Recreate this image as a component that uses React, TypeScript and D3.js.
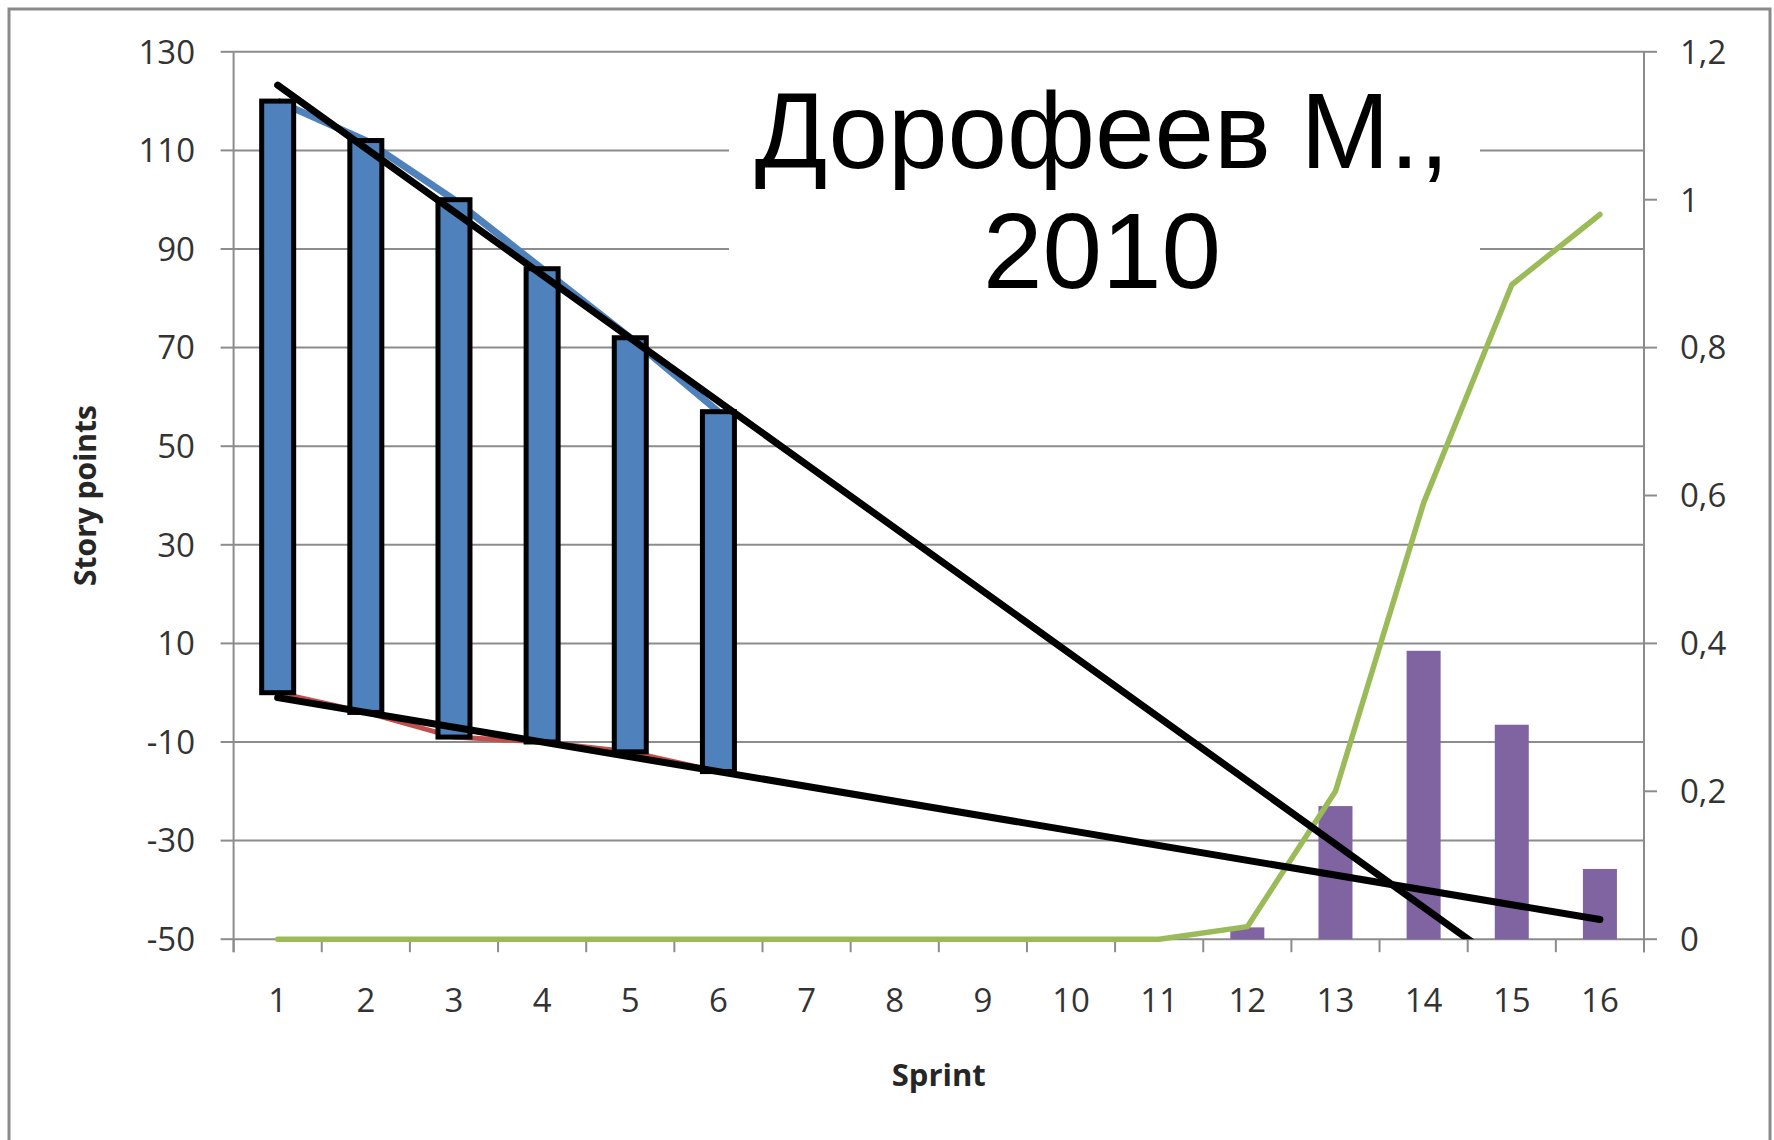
import React from 'react';
import * as d3 from 'd3';

const width = 1774;
const height = 1140;
const plot = {left: 233.6, right: 1644, top: 51.8, bottom: 939.2};
const blue = '#4f81bd';
const purple = '#8064a2';
const green = '#9bbb59';
const red = '#c0504d';
const grid = '#8c8c8c';
const labelColor = '#333333';

// sprints on the x axis
const sprints = [1, 2, 3, 4, 5, 6, 7, 8, 9, 10, 11, 12, 13, 14, 15, 16];
// finished sprints: top and bottom of the floating bars (story points)
const doneSprints = [1, 2, 3, 4, 5, 6];
const remainingTop = [120, 112, 100, 86, 72, 57];
const addedBottom = [0, -4, -9, -10, -12, -16];
// right axis: probability of finishing in that sprint, and the cumulative
const probability = [0, 0, 0, 0, 0, 0, 0, 0, 0, 0, 0, 0.016, 0.18, 0.39, 0.29, 0.095];
const cumulative = [0, 0, 0, 0, 0, 0, 0, 0, 0, 0, 0, 0.017, 0.2, 0.59, 0.885, 0.98];
const leftTicks = [-50, -30, -10, 10, 30, 50, 70, 90, 110, 130];
const rightTicks = [0, 0.2, 0.4, 0.6, 0.8, 1, 1.2];
const titleLines = ['Дорофеев М.,', '2010'];

const fmtComma = d3.formatLocale({decimal: ',', thousands: ' ', grouping: [3], currency: ['', '']}).format('~g');

// least squares line through the points
function fit(xs: number[], ys: number[]) {
    const mx = d3.mean(xs) as number;
    const my = d3.mean(ys) as number;
    const sxy = d3.sum(xs, (x, i) => (x - mx) * (ys[i] - my));
    const sxx = d3.sum(xs, x => (x - mx) * (x - mx));
    const slope = sxy / sxx;
    return (x: number) => my + slope * (x - mx);
}

export default function App() {
    const xBand = d3.scaleBand<number>().domain(sprints).range([plot.left, plot.right]);
    const xPos = d3.scaleLinear().domain([0.5, 16.5]).range([plot.left, plot.right]);
    const yL = d3.scaleLinear().domain([-50, 130]).range([plot.bottom, plot.top]);
    const yR = d3.scaleLinear().domain([0, 1.2]).range([plot.bottom, plot.top]);
    const bw = 32;

    const lineL = d3.line<[number, number]>().x(d => xPos(d[0])).y(d => yL(d[1]));
    const lineR = d3.line<[number, number]>().x(d => xPos(d[0])).y(d => yR(d[1]));

    const topFit = fit(doneSprints, remainingTop);
    const bottomFit = fit(doneSprints, addedBottom);
    const ends = [sprints[0], sprints[sprints.length - 1]];

    const boundaries = d3.range(sprints.length + 1).map(i => plot.left + i * xBand.bandwidth());

    return (
        <svg width={width} height={height} style={{position: 'absolute', left: 0, top: 0, background: '#fff'}}>
            <defs>
                <clipPath id='plotClip'>
                    <rect x={plot.left} y={plot.top} width={plot.right - plot.left} height={plot.bottom - plot.top}/>
                </clipPath>
            </defs>
            <rect x={9} y={9} width={1761} height={1140} fill='#fff' stroke='#8a8a8a' strokeWidth={3}/>

            {/* gridlines */}
            {leftTicks.map(t => (
                <line key={t} x1={plot.left} x2={plot.right} y1={yL(t)} y2={yL(t)} stroke={grid} strokeWidth={2}/>
            ))}
            {/* white box behind the title */}
            <rect x={729} y={72} width={751} height={236} fill='#fff'/>

            {/* axes */}
            <line x1={plot.left} x2={plot.left} y1={plot.top} y2={plot.bottom + 13} stroke={grid} strokeWidth={2}/>
            <line x1={plot.right} x2={plot.right} y1={plot.top} y2={plot.bottom + 13} stroke={grid} strokeWidth={2}/>
            {leftTicks.map(t => (
                <g key={t}>
                    <line x1={plot.left - 13} x2={plot.left} y1={yL(t)} y2={yL(t)} stroke={grid} strokeWidth={2}/>
                    <text x={195} y={yL(t)} dy='0.36em' textAnchor='end' fontFamily='Open Sans' fontSize={33} fill={labelColor}>{t}</text>
                </g>
            ))}
            {rightTicks.map(t => (
                <g key={t}>
                    <line x1={plot.right} x2={plot.right + 13} y1={yR(t)} y2={yR(t)} stroke={grid} strokeWidth={2}/>
                    <text x={1680} y={yR(t)} dy='0.36em' fontFamily='Open Sans' fontSize={33} fill={labelColor}>{fmtComma(t)}</text>
                </g>
            ))}
            {boundaries.map((b, i) => (
                <line key={i} x1={b} x2={b} y1={plot.bottom} y2={plot.bottom + 13} stroke={grid} strokeWidth={2}/>
            ))}
            {sprints.map(s => (
                <text key={s} x={xPos(s)} y={1000} dy='0.36em' textAnchor='middle' fontFamily='Open Sans' fontSize={33} fill={labelColor}>{s}</text>
            ))}
            <text transform={`translate(85, ${(plot.top + plot.bottom) / 2}) rotate(-90)`} dy='0.36em' textAnchor='middle'
                  fontFamily='Open Sans' fontWeight='bold' fontSize={30} fill='#262626'>Story points</text>
            <text x={(plot.left + plot.right) / 2} y={1075} dy='0.36em' textAnchor='middle'
                  fontFamily='Open Sans' fontWeight='bold' fontSize={31} fill='#262626'>Sprint</text>

            {/* title */}
            {titleLines.map((t, i) => (
                <text key={t} x={1102} y={168 + i * 120} textAnchor='middle' fontFamily='Liberation Sans, Arial'
                      fontSize={107} fill='#000'>{t}</text>
            ))}

            {/* probability bars */}
            {sprints.map((s, i) => probability[i] > 0 && (
                <rect key={s} x={xPos(s) - 17} y={yR(probability[i])} width={34}
                      height={yR(0) - yR(probability[i])} fill={purple}/>
            ))}

            {/* lines through tops and bottoms */}
            <path d={lineL(doneSprints.map((s, i) => [s, remainingTop[i]]) as [number, number][]) || ''}
                  fill='none' stroke={blue} strokeWidth={7}/>
            <path d={lineL(doneSprints.map((s, i) => [s, addedBottom[i]]) as [number, number][]) || ''}
                  fill='none' stroke={red} strokeWidth={5}/>

            {/* floating bars */}
            {doneSprints.map((s, i) => (
                <rect key={s} x={xPos(s) - bw / 2} y={yL(remainingTop[i])} width={bw}
                      height={yL(addedBottom[i]) - yL(remainingTop[i])} fill={blue} stroke='#000' strokeWidth={5}/>
            ))}

            {/* cumulative probability */}
            <path d={lineR(sprints.map((s, i) => [s, cumulative[i]]) as [number, number][]) || ''}
                  fill='none' stroke={green} strokeWidth={5.5} strokeLinejoin='round' strokeLinecap='round'/>

            {/* trend lines */}
            <g clipPath='url(#plotClip)'>
                <path d={lineL(ends.map(x => [x, topFit(x)]) as [number, number][]) || ''}
                      fill='none' stroke='#000' strokeWidth={7} strokeLinecap='round'/>
                <path d={lineL(ends.map(x => [x, bottomFit(x)]) as [number, number][]) || ''}
                      fill='none' stroke='#000' strokeWidth={7} strokeLinecap='round'/>
            </g>
        </svg>
    );
}
